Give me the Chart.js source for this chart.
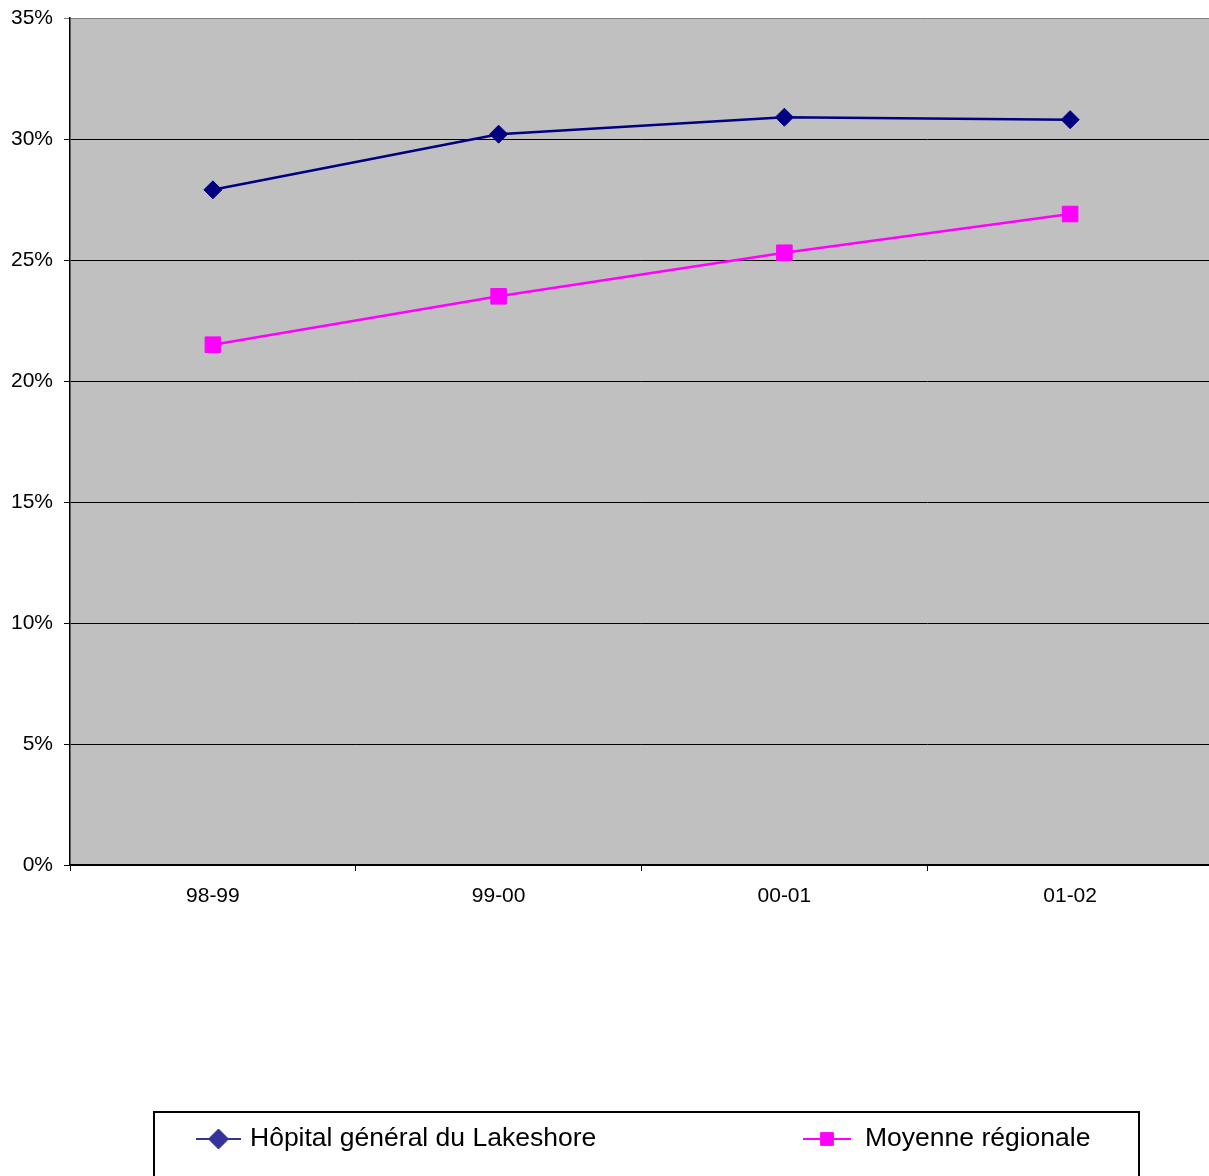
<!DOCTYPE html>
<html>
<head>
<meta charset="utf-8">
<script src="https://cdn.jsdelivr.net/npm/chart.js@4.4.1/dist/chart.umd.min.js"></script>
<style>
html,body{margin:0;padding:0;background:#fff;overflow:hidden;}
#wrap{width:1209px;height:1176px;position:relative;overflow:hidden;}
canvas{display:block;}
</style>
</head>
<body>
<div id="wrap"><canvas id="c" width="1213" height="1176"></canvas></div>
<script>
const categories = ['98-99', '99-00', '00-01', '01-02'];
const lakeshoreLabel = 'Hôpital général du Lakeshore';
const lakeshoreValues = [27.9, 30.2, 30.9, 30.8];
const regionLabel = 'Moyenne régionale';
const regionValues = [21.5, 23.5, 25.3, 26.9];
const yTicks = [0, 5, 10, 15, 20, 25, 30, 35];

const FONT = "'Liberation Sans', Arial, Helvetica, sans-serif";

const plotBg = {
  id: 'plotBg',
  beforeDraw(chart) {
    const {ctx, chartArea: a} = chart;
    ctx.save();
    ctx.fillStyle = '#C0C0C0';
    ctx.fillRect(a.left, a.top, a.right - a.left, a.bottom - a.top);
    ctx.restore();
  }
};

const boxLegend = {
  id: 'boxLegend',
  afterDraw(chart) {
    const ctx = chart.ctx;
    ctx.save();
    ctx.fillStyle = '#fff';
    ctx.fillRect(153, 1111, 986, 80);
    ctx.strokeStyle = '#000';
    ctx.lineWidth = 2;
    ctx.strokeRect(154, 1112, 985, 80);
    const items = [
      {ds: 0, x0: 196, x1: 241, tx: 250, color: '#333399', r: 10},
      {ds: 1, x0: 803, x1: 851, tx: 865, color: '#FF00FF', r: 9}
    ];
    const y = 1139;
    items.forEach(it => {
      const ds = chart.data.datasets[it.ds];
      ctx.strokeStyle = it.color;
      ctx.lineWidth = 2;
      ctx.beginPath();
      ctx.moveTo(it.x0, y);
      ctx.lineTo(it.x1, y);
      ctx.stroke();
      ctx.fillStyle = it.color;
      ctx.strokeStyle = it.color;
      ctx.lineWidth = 1;
      Chart.helpers.drawPoint(ctx, {pointStyle: ds.pointStyle, radius: it.r, rotation: 0, borderWidth: 1}, (it.x0 + it.x1) / 2, y);
      ctx.fillStyle = '#000';
      ctx.font = '26.5px ' + FONT;
      ctx.textBaseline = 'middle';
      ctx.textAlign = 'left';
      ctx.fillText(ds.label, it.tx, y);
    });
    ctx.restore();
  }
};

new Chart(document.getElementById('c'), {
  type: 'line',
  data: {
    labels: categories,
    datasets: [
      {
        label: lakeshoreLabel,
        data: lakeshoreValues,
        borderColor: '#000080',
        backgroundColor: '#000080',
        borderWidth: 2.5,
        pointStyle: 'rectRot',
        pointRadius: 9,
        pointBorderWidth: 1,
        pointBackgroundColor: '#000080',
        pointBorderColor: '#000080',
        tension: 0
      },
      {
        label: regionLabel,
        data: regionValues,
        borderColor: '#FF00FF',
        backgroundColor: '#FF00FF',
        borderWidth: 2.5,
        pointStyle: 'rect',
        pointRadius: 11,
        pointBorderWidth: 1,
        pointBackgroundColor: '#FF00FF',
        pointBorderColor: '#FF00FF',
        tension: 0
      }
    ]
  },
  options: {
    responsive: false,
    animation: false,
    devicePixelRatio: 1,
    layout: {padding: 0, autoPadding: false},
    plugins: {legend: {display: false}, tooltip: {enabled: false}},
    scales: {
      x: {
        type: 'category',
        offset: true,
        grid: {offset: true, drawOnChartArea: false, drawTicks: true, tickLength: 6, color: '#000', lineWidth: 1},
        border: {display: true, color: '#000', width: 1.5},
        ticks: {color: '#000', font: {family: FONT, size: 21}, padding: 13, maxRotation: 0, autoSkip: false},
        afterFit(s) { s.height = 311; s.paddingLeft = 0; s.paddingRight = 0; }
      },
      y: {
        min: 0, max: 35,
        afterBuildTicks(s) { s.ticks = yTicks.map(v => ({value: v})); },
        grid: {
          drawTicks: true, tickLength: 6, lineWidth: 1,
          color: ctx => (ctx.tick && ctx.tick.value === 35) ? '#808080' : '#000'
        },
        border: {display: true, color: '#000', width: 1.5},
        ticks: {color: '#000', font: {family: FONT, size: 21}, padding: 11, callback: v => v + '%'},
        afterFit(s) { s.width = 70; s.paddingTop = 18; s.paddingBottom = 0; }
      }
    }
  },
  plugins: [plotBg, boxLegend]
});
</script>
</body>
</html>
